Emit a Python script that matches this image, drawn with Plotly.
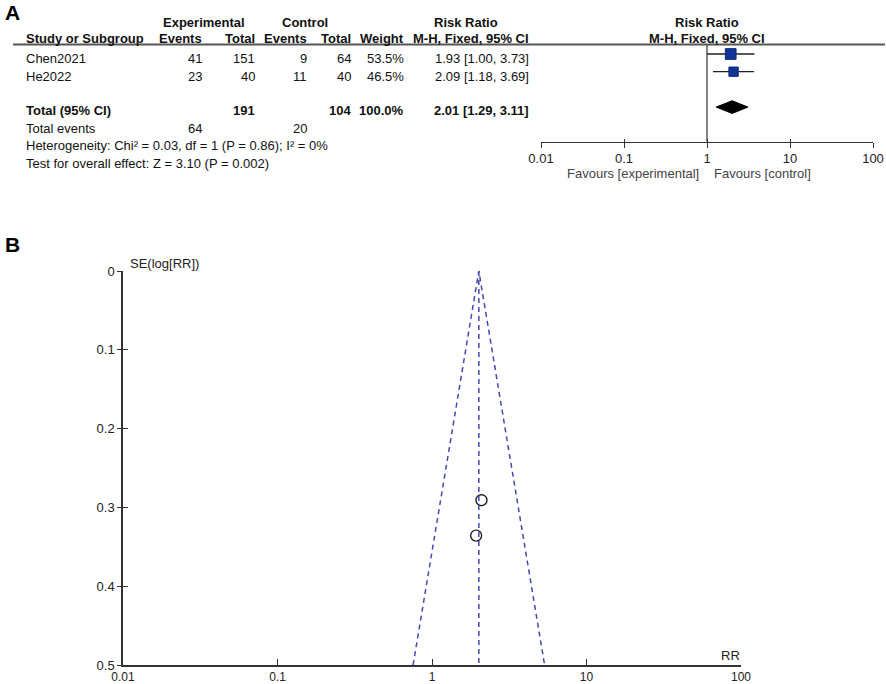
import math
import plotly.graph_objects as go

# ---------------- data ----------------
studies = ["Chen2021", "He2022"]
exp_events = [41, 23]
exp_total = [151, 40]
ctrl_events = [9, 11]
ctrl_total = [64, 40]
weights = [53.5, 46.5]
rr = [1.93, 2.09]
ci_lo = [1.00, 1.18]
ci_hi = [3.73, 3.69]
study_rows = [0, 1]

pooled_rr = 2.01
pooled_lo = 1.29
pooled_hi = 3.11
pooled_row = 3
heterogeneity = "Heterogeneity: Chi² = 0.03, df = 1 (P = 0.86); I² = 0%"
overall = "Test for overall effect: Z = 3.10 (P = 0.002)"

rr_ticks = [0.01, 0.1, 1, 10, 100]
rr_ticklabels = ["0.01", "0.1", "1", "10", "100"]
se_ticks = [0, 0.1, 0.2, 0.3, 0.4, 0.5]
se_ticklabels = ["0", "0.1", "0.2", "0.3", "0.4", "0.5"]
se_max = 0.5

# ---------------- helpers ----------------
W, H = 886, 684
FONT = "Liberation Sans, Arial, sans-serif"


def px(x):
    return x / W


def py(y):
    return 1 - y / H


se = [(math.log(h) - math.log(l)) / (2 * 1.96) for l, h in zip(ci_lo, ci_hi)]

fig = go.Figure()

# ---------------- Panel A : forest ----------------
fig.add_trace(go.Scatter(
    x=rr, y=study_rows, mode="markers",
    marker=dict(symbol="square", size=[w / 5 for w in weights], color="#123592",
                line=dict(color="#0a2580", width=1), opacity=1),
    error_x=dict(type="data", symmetric=False,
                 array=[h - r for h, r in zip(ci_hi, rr)],
                 arrayminus=[r - l for r, l in zip(rr, ci_lo)],
                 width=0, thickness=1.3, color="#222"),
    xaxis="x", yaxis="y", showlegend=False, hoverinfo="skip"))

dh = 0.36
fig.add_trace(go.Scatter(
    x=[pooled_lo, pooled_rr, pooled_hi, pooled_rr, pooled_lo],
    y=[pooled_row, pooled_row - dh, pooled_row, pooled_row + dh, pooled_row],
    mode="lines", fill="toself", fillcolor="black", line=dict(color="black", width=1),
    xaxis="x3", yaxis="y", showlegend=False, hoverinfo="skip"))

fig.add_shape(type="line", xref="x", yref="y domain", x0=1, x1=1, y0=0, y1=1,
              line=dict(color="#333", width=1.2))
fig.add_shape(type="line", xref="paper", yref="paper", x0=px(13), x1=px(885),
              y0=py(44.5), y1=py(44.5), line=dict(color="#555", width=2))

ann = []


def T(text, x, y, anchor="left", bold=False, size=13, color="#111"):
    ann.append(dict(text=("<b>%s</b>" % text) if bold else text, x=px(x), y=py(y),
                    xref="paper", yref="paper", xanchor=anchor, yanchor="middle",
                    showarrow=False, font=dict(family=FONT, size=size, color=color)))


T("A", 3, 13, bold=True, size=21, color="#000")
T("B", 3, 245, bold=True, size=21, color="#000")

T("Experimental", 204, 22, "center", True)
T("Control", 304.5, 22, "center", True)
T("Risk Ratio", 466, 22, "center", True)
T("Risk Ratio", 707, 22, "center", True)

T("Study or Subgroup", 24, 39, "left", True)
col_right = [204, 257, 309, 353, 406, 531]
for txt, xr in zip(["Events", "Total", "Events", "Total", "Weight", "M-H, Fixed, 95% CI"], col_right):
    T(txt, xr, 39, "right", True)
T("M-H, Fixed, 95% CI", 707, 39, "center", True)

row_y = [58.3, 76]
for i, s in enumerate(studies):
    y = row_y[i]
    T(s, 24, y)
    T(str(exp_events[i]), col_right[0], y, "right")
    T(str(exp_total[i]), col_right[1], y, "right")
    T(str(ctrl_events[i]), col_right[2], y, "right")
    T(str(ctrl_total[i]), col_right[3], y, "right")
    T("%.1f%%" % weights[i], col_right[4], y, "right")
    T("%.2f [%.2f, %.2f]" % (rr[i], ci_lo[i], ci_hi[i]), col_right[5], y, "right")

T("Total (95% CI)", 24, 110, bold=True)
T(str(sum(exp_total)), col_right[1], 110, "right", True)
T(str(sum(ctrl_total)), col_right[3], 110, "right", True)
T("%.1f%%" % sum(weights), col_right[4], 110, "right", True)
T("%.2f [%.2f, %.2f]" % (pooled_rr, pooled_lo, pooled_hi), col_right[5], 110, "right", True)
T("Total events", 24, 128.5)
T(str(sum(exp_events)), col_right[0], 128.5, "right")
T(str(sum(ctrl_events)), col_right[2], 128.5, "right")
T(heterogeneity, 24, 146)
T(overall, 24, 163)

T("Favours [experimental]", 701, 173, "right", color="#444")
T("Favours [control]", 712, 173, "left", color="#444")

# ---------------- Panel B : funnel ----------------
fig.add_trace(go.Scatter(
    x=[pooled_rr * math.exp(-1.96 * se_max), pooled_rr, pooled_rr * math.exp(1.96 * se_max)],
    y=[se_max, 0, se_max], mode="lines",
    line=dict(color="#4646b4", width=1.5, dash="5px,4px"),
    xaxis="x2", yaxis="y3", showlegend=False, hoverinfo="skip"))
fig.add_trace(go.Scatter(
    x=[pooled_rr, pooled_rr], y=[0, se_max], mode="lines",
    line=dict(color="#4646b4", width=1.5, dash="5px,4px"),
    xaxis="x2", yaxis="y3", showlegend=False, hoverinfo="skip"))
fig.add_trace(go.Scatter(
    x=rr, y=se, mode="markers",
    marker=dict(symbol="circle-open", size=11, color="#222", line=dict(width=1.4)),
    xaxis="x2", yaxis="y2", showlegend=False, hoverinfo="skip"))

T("SE(log[RR])", 128, 263, "left", size=13, color="#222")
T("RR", 742, 655, "right", size=13, color="#222")

tickfont = dict(family=FONT, size=13, color="#222")
tickfont_small = dict(family=FONT, size=12, color="#222")

fig.update_layout(
    template="none",
    width=W, height=H, margin=dict(l=0, r=0, t=0, b=0, pad=0, autoexpand=False),
    paper_bgcolor="white", plot_bgcolor="white",
    annotations=ann,
    xaxis=dict(type="log", range=[-2, 2], domain=[px(541), px(873)], anchor="y",
               automargin=False,
               showgrid=False, zeroline=False, showline=True, linecolor="#333", linewidth=1.2,
               ticks="outside", ticklen=5, tickwidth=1.2, tickcolor="#333",
               tickvals=rr_ticks, ticktext=rr_ticklabels, tickfont=tickfont),
    xaxis3=dict(type="log", range=[-2, 2], overlaying="x", anchor="y",
                automargin=False,
                showgrid=False, zeroline=False, showline=False,
                ticks="inside", ticklen=3, tickwidth=1.2, tickcolor="#333",
                tickvals=rr_ticks, showticklabels=False),
    yaxis=dict(domain=[py(141.7), py(44.5)], range=[(141.7 - 54) / 17.7, (44.5 - 54) / 17.7],
               visible=False, anchor="x", automargin=False),
    xaxis2=dict(type="log", range=[-2, 2], domain=[px(123), px(741)], anchor="y2",
                automargin=False,
                showgrid=False, zeroline=False, showline=True, linecolor="#333", linewidth=1.5,
                ticks="inside", ticklen=6, tickwidth=1.3, tickcolor="#333",
                tickvals=rr_ticks, ticktext=rr_ticklabels, tickfont=tickfont_small),
    yaxis2=dict(range=[se_max, 0], domain=[py(665), py(271)], anchor="x2",
                automargin=False,
                showgrid=False, zeroline=False, showline=True, linecolor="#333", linewidth=1.5,
                ticks="outside", ticklen=4, tickwidth=1.3, tickcolor="#333",
                tickvals=se_ticks, ticktext=se_ticklabels, tickfont=tickfont),
    yaxis3=dict(range=[se_max, 0], overlaying="y2", anchor="x2",
                automargin=False,
                showgrid=False, zeroline=False, showline=False,
                ticks="inside", ticklen=5, tickwidth=1.3, tickcolor="#333",
                tickvals=se_ticks, showticklabels=False),
)

fig.write_html("out.html", config={"displayModeBar": False},
               post_script="document.body.style.margin='0';document.body.style.overflow='hidden';")
